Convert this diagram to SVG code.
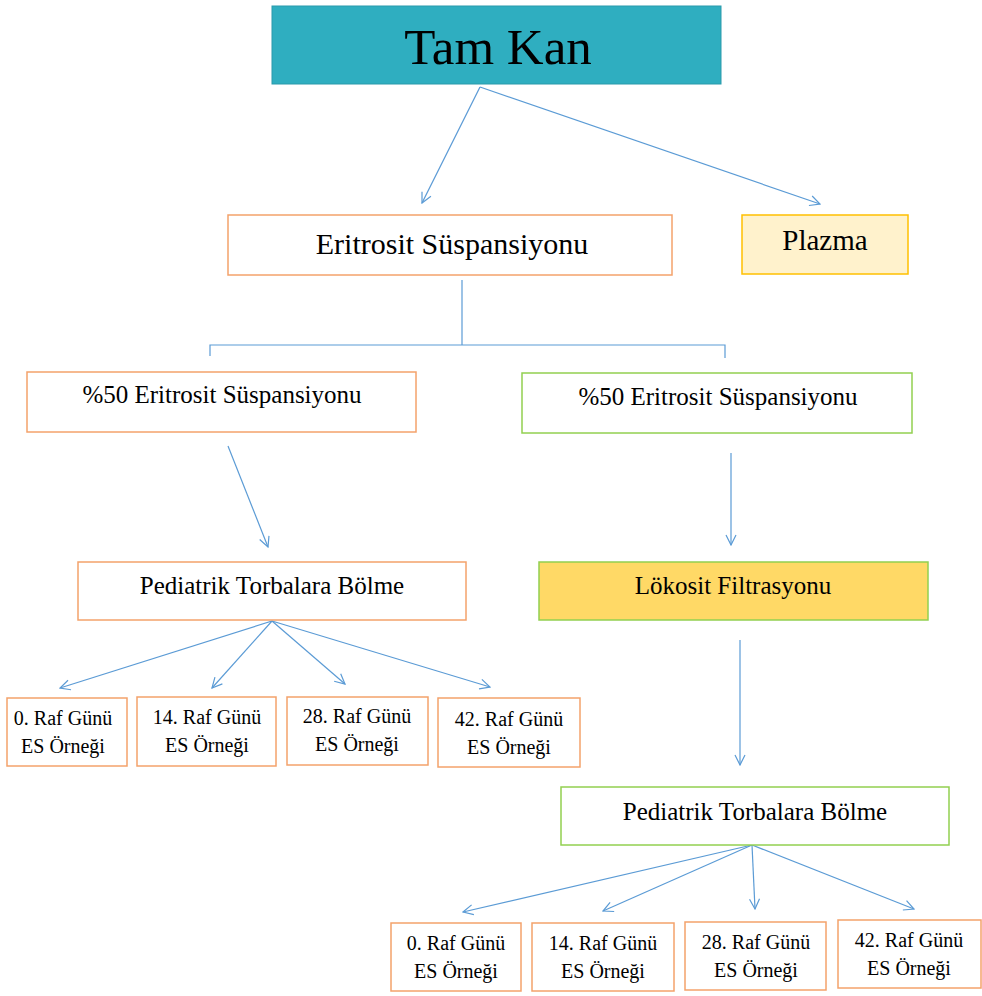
<svg xmlns="http://www.w3.org/2000/svg" width="982" height="996" viewBox="0 0 982 996">
<defs>
<marker id="ah" viewBox="0 0 12 12" refX="11" refY="6" markerWidth="12" markerHeight="12" markerUnits="userSpaceOnUse" orient="auto">
<polyline points="1,1 11,6 1,11" fill="none" stroke="#5B9BD5" stroke-width="1.2"/>
</marker>
<style>
.t{font-family:"Liberation Serif","Times New Roman",serif;fill:#000;text-anchor:middle}
.or{fill:#fff;stroke:#F4A26B;stroke-width:1.5}
.gr{fill:#fff;stroke:#92D050;stroke-width:1.5}
.c{fill:none;stroke:#5B9BD5;stroke-width:1.2}
.a{fill:none;stroke:#5B9BD5;stroke-width:1.2;marker-end:url(#ah)}
.s{font-size:20px}
</style>
</defs>
<rect width="982" height="996" fill="#fff"/>
<g id="connectors">
<line class="a" x1="480" y1="87" x2="422" y2="203"/>
<line class="a" x1="480" y1="87" x2="820" y2="204"/>
<polyline class="c" points="462,280 462,345"/>
<polyline class="c" points="210,356 210,345 725,345 725,358"/>
<line class="a" x1="228" y1="446" x2="268" y2="547"/>
<line class="a" x1="731" y1="453" x2="731" y2="545"/>
<line class="a" x1="272" y1="621" x2="60" y2="688"/>
<line class="a" x1="272" y1="621" x2="212" y2="688"/>
<line class="a" x1="272" y1="621" x2="345" y2="684"/>
<line class="a" x1="272" y1="621" x2="490" y2="687"/>
<line class="a" x1="740" y1="640" x2="740" y2="765"/>
<line class="a" x1="752" y1="845" x2="463" y2="912"/>
<line class="a" x1="752" y1="845" x2="603" y2="911"/>
<line class="a" x1="752" y1="845" x2="755" y2="909"/>
<line class="a" x1="752" y1="845" x2="914" y2="909"/>
</g>
<g id="tamkan">
<rect x="272" y="6" width="449" height="78" fill="#2FAEC0" stroke="#2A9AAB" stroke-width="1"/>
<text class="t" x="498" y="64" font-size="51">Tam Kan</text>
</g>
<g id="eritrosit">
<rect class="or" x="228" y="215" width="444" height="60"/>
<text class="t" x="452" y="254" font-size="30">Eritrosit Süspansiyonu</text>
</g>
<g id="plazma">
<rect x="742" y="215" width="166" height="59" fill="#FFF2CC" stroke="#FFC000" stroke-width="1.5"/>
<text class="t" x="825" y="250" font-size="29">Plazma</text>
</g>
<g id="es50-left">
<rect class="or" x="27" y="372" width="389" height="60"/>
<text class="t" x="222" y="403" font-size="25">%50 Eritrosit Süspansiyonu</text>
</g>
<g id="es50-right">
<rect class="gr" x="522" y="373" width="390" height="60"/>
<text class="t" x="718" y="405" font-size="25">%50 Eritrosit Süspansiyonu</text>
</g>
<g id="pediatrik-left">
<rect class="or" x="78" y="562" width="388" height="58"/>
<text class="t" x="272" y="594" font-size="25">Pediatrik Torbalara Bölme</text>
</g>
<g id="lokosit">
<rect x="539" y="562" width="389" height="58" fill="#FFD966" stroke="#92D050" stroke-width="1.5"/>
<text class="t" x="733" y="594" font-size="25">Lökosit Filtrasyonu</text>
</g>
<g id="l0">
<rect class="or" x="7" y="698" width="120" height="68"/>
<text class="t s" x="63" y="725">0. Raf Günü</text>
<text class="t s" x="63" y="753">ES Örneği</text>
</g>
<g id="l14">
<rect class="or" x="137" y="697" width="139" height="69"/>
<text class="t s" x="207" y="724">14. Raf Günü</text>
<text class="t s" x="207" y="752">ES Örneği</text>
</g>
<g id="l28">
<rect class="or" x="287" y="697" width="141" height="68"/>
<text class="t s" x="357" y="723">28. Raf Günü</text>
<text class="t s" x="357" y="751">ES Örneği</text>
</g>
<g id="l42">
<rect class="or" x="438" y="698" width="142" height="69"/>
<text class="t s" x="509" y="726">42. Raf Günü</text>
<text class="t s" x="509" y="754">ES Örneği</text>
</g>
<g id="pediatrik-right">
<rect class="gr" x="561" y="787" width="388" height="58"/>
<text class="t" x="755" y="820" font-size="25">Pediatrik Torbalara Bölme</text>
</g>
<g id="r0">
<rect class="or" x="391" y="923" width="130" height="68"/>
<text class="t s" x="456" y="950">0. Raf Günü</text>
<text class="t s" x="456" y="978">ES Örneği</text>
</g>
<g id="r14">
<rect class="or" x="532" y="923" width="142" height="68"/>
<text class="t s" x="603" y="950">14. Raf Günü</text>
<text class="t s" x="603" y="978">ES Örneği</text>
</g>
<g id="r28">
<rect class="or" x="685" y="922" width="141" height="68"/>
<text class="t s" x="756" y="949">28. Raf Günü</text>
<text class="t s" x="756" y="977">ES Örneği</text>
</g>
<g id="r42">
<rect class="or" x="838" y="920" width="143" height="68"/>
<text class="t s" x="909" y="947">42. Raf Günü</text>
<text class="t s" x="909" y="975">ES Örneği</text>
</g>
</svg>
